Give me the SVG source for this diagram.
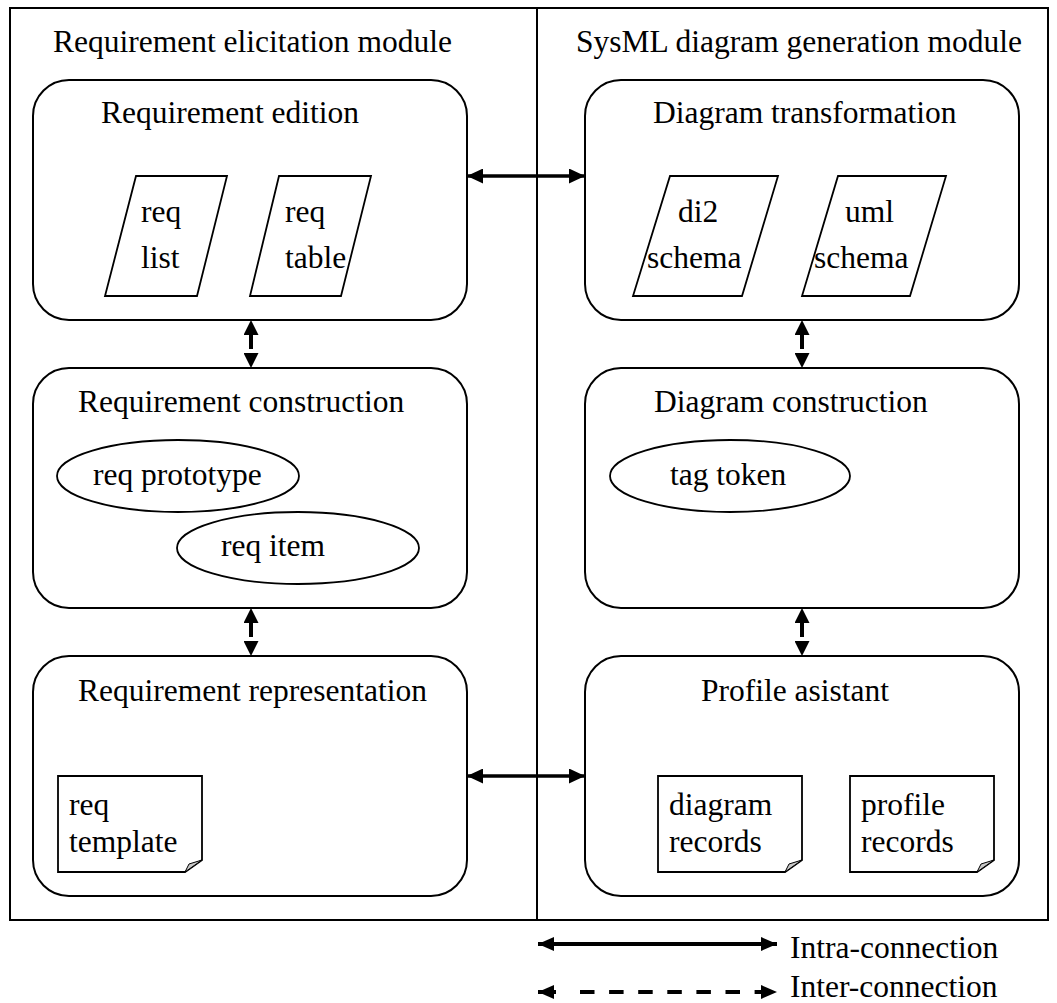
<svg xmlns="http://www.w3.org/2000/svg" width="1057" height="1003" viewBox="0 0 1057 1003">
  <style>
    text { font-family: "Liberation Serif", "Times New Roman", serif; font-size: 31.5px; fill: #000; }
    .frame { fill: none; stroke: #000; stroke-width: 2; }
    .box { fill: #fff; stroke: #000; stroke-width: 2; }
    .item { fill: #fff; stroke: #000; stroke-width: 1.8; }
    .fold { fill: #c8c8c8; stroke: #000; stroke-width: 1; }
    .intra { fill: none; stroke: #000; stroke-width: 3.5; marker-start: url(#headH); marker-end: url(#headH); }
    .inter { fill: none; stroke: #000; stroke-width: 4; stroke-dasharray: 0 15 14 100; marker-start: url(#headV); marker-end: url(#headV); }
    .key { fill: none; stroke: #000; stroke-width: 4; }
    .key-dash { fill: none; stroke: #000; stroke-width: 4; stroke-dasharray: 14.5 14.6; }
    .key-heads { fill: none; stroke: none; marker-start: url(#headL); marker-end: url(#headL); }
  </style>
  <defs>
    <marker id="headH" markerUnits="userSpaceOnUse" markerWidth="16" markerHeight="15" refX="16" refY="7.5" orient="auto-start-reverse">
      <path d="M0,0 L16,7.5 L0,15 Z" fill="#000"/>
    </marker>
    <marker id="headV" markerUnits="userSpaceOnUse" markerWidth="15" markerHeight="15" refX="15" refY="7.5" orient="auto-start-reverse">
      <path d="M0,0 L15,7.5 L0,15 Z" fill="#000"/>
    </marker>
    <marker id="headL" markerUnits="userSpaceOnUse" markerWidth="16" markerHeight="14" refX="16" refY="7" orient="auto-start-reverse">
      <path d="M0,0 L16,7 L0,14 Z" fill="#000"/>
    </marker>
  </defs>

  <rect width="1057" height="1003" fill="#fff"/>

  <!-- module frames -->
  <g id="modules">
    <rect class="frame" x="10" y="8" width="1038" height="912"/>
    <line class="frame" x1="537" y1="8" x2="537" y2="920"/>
    <text x="53" y="52">Requirement elicitation module</text>
    <text x="576" y="52">SysML diagram generation module</text>
  </g>

  <!-- left column -->
  <g id="requirement-edition">
    <rect class="box" x="33" y="80" width="434" height="240" rx="36" ry="36"/>
    <text x="101" y="123">Requirement edition</text>
    <polygon class="item" points="136,176 227,176 197,296 105,296"/>
    <text x="141" y="222">req</text>
    <text x="141" y="268">list</text>
    <polygon class="item" points="279,176 371,176 341,296 250,296"/>
    <text x="285" y="222">req</text>
    <text x="285" y="268">table</text>
  </g>

  <g id="requirement-construction">
    <rect class="box" x="33" y="368" width="434" height="240" rx="36" ry="36"/>
    <text x="78" y="412">Requirement construction</text>
    <ellipse class="item" cx="178" cy="476" rx="121" ry="36"/>
    <text x="93" y="485">req prototype</text>
    <ellipse class="item" cx="298" cy="548" rx="121" ry="36"/>
    <text x="221" y="556">req item</text>
  </g>

  <g id="requirement-representation">
    <rect class="box" x="33" y="656" width="434" height="240" rx="36" ry="36"/>
    <text x="78" y="701">Requirement representation</text>
    <path class="item" d="M58,776 H202 V860 L185,872 H58 Z"/>
    <path class="fold" d="M202,860 L185,872 L189,864 Z"/>
    <text x="69" y="815">req</text>
    <text x="69" y="852">template</text>
  </g>

  <!-- right column -->
  <g id="diagram-transformation">
    <rect class="box" x="585" y="80" width="434" height="240" rx="36" ry="36"/>
    <text x="653" y="123">Diagram transformation</text>
    <polygon class="item" points="670,176 778,176 742,296 633,296"/>
    <text x="678" y="222">di2</text>
    <text x="647" y="268">schema</text>
    <polygon class="item" points="838,176 946,176 910,296 802,296"/>
    <text x="845" y="222">uml</text>
    <text x="814" y="268">schema</text>
  </g>

  <g id="diagram-construction">
    <rect class="box" x="585" y="368" width="434" height="240" rx="36" ry="36"/>
    <text x="654" y="412">Diagram construction</text>
    <ellipse class="item" cx="730" cy="476" rx="120" ry="36"/>
    <text x="670" y="485">tag token</text>
  </g>

  <g id="profile-assistant">
    <rect class="box" x="585" y="656" width="434" height="240" rx="36" ry="36"/>
    <text x="701" y="701">Profile asistant</text>
    <path class="item" d="M658,776 H802 V860 L785,872 H658 Z"/>
    <path class="fold" d="M802,860 L785,872 L789,864 Z"/>
    <text x="669" y="815">diagram</text>
    <text x="669" y="852">records</text>
    <path class="item" d="M850,776 H994 V860 L977,872 H850 Z"/>
    <path class="fold" d="M994,860 L977,872 L981,864 Z"/>
    <text x="861" y="815">profile</text>
    <text x="861" y="852">records</text>
  </g>

  <!-- connectors -->
  <g id="connectors">
    <line class="intra" x1="467" y1="176" x2="585" y2="176"/>
    <line class="intra" x1="467" y1="776" x2="585" y2="776"/>
    <line class="inter" x1="251" y1="320" x2="251" y2="368"/>
    <line class="inter" x1="251" y1="608" x2="251" y2="656"/>
    <line class="inter" x1="802" y1="320" x2="802" y2="368"/>
    <line class="inter" x1="802" y1="608" x2="802" y2="656"/>
  </g>

  <!-- legend -->
  <g id="legend">
    <line class="key" x1="538" y1="944" x2="777" y2="944" marker-start="url(#headL)" marker-end="url(#headL)"/>
    <text x="790" y="958">Intra-connection</text>
    <path class="key" d="M538,992 H556"/>
    <path class="key-dash" d="M580,992 H762"/>
    <path class="key-heads" d="M538,992 H777"/>
    <text x="790" y="997">Inter-connection</text>
  </g>
</svg>
